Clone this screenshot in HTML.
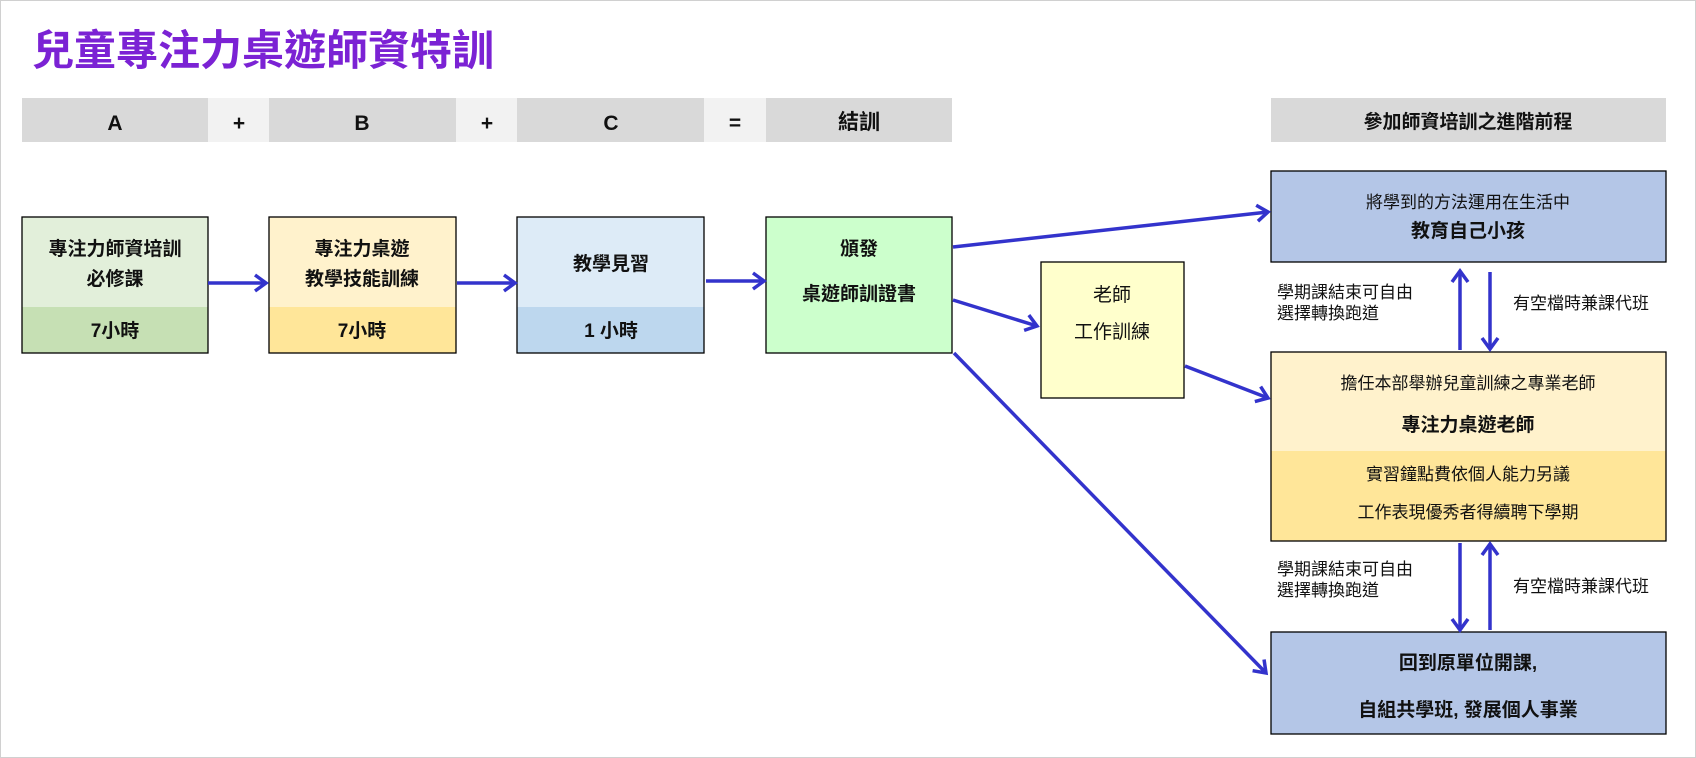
<!DOCTYPE html>
<html><head><meta charset="utf-8"><style>
html,body{margin:0;padding:0;background:#fff}
svg{display:block}
text{font-family:"Liberation Sans","Noto Sans CJK TC",sans-serif;fill:#111}
.b{font-weight:bold}
</style></head><body>
<svg width="1696" height="758" viewBox="0 0 1696 758" xmlns="http://www.w3.org/2000/svg">
<defs>
<marker id="ah" markerWidth="18" markerHeight="20" refX="14" refY="10" orient="auto" markerUnits="userSpaceOnUse">
<path d="M3,2 L14,10 L3,18" fill="none" stroke="#3333cc" stroke-width="3.5"/>
</marker>
</defs>
<rect x="0.5" y="0.5" width="1695" height="757" fill="#fff" stroke="#d0d0d0"/>
<text x="32" y="65" font-size="42" class="b" style="fill:#7b22d4">兒童專注力桌遊師資特訓</text>

<rect x="22" y="98" width="186" height="44" fill="#d9d9d9"/>
<rect x="208" y="98" width="61" height="44" fill="#f2f2f2"/>
<rect x="269" y="98" width="187" height="44" fill="#d9d9d9"/>
<rect x="456" y="98" width="61" height="44" fill="#f2f2f2"/>
<rect x="517" y="98" width="187" height="44" fill="#d9d9d9"/>
<rect x="704" y="98" width="62" height="44" fill="#f2f2f2"/>
<rect x="766" y="98" width="186" height="44" fill="#d9d9d9"/>
<g font-size="21" class="b" text-anchor="middle">
<text x="115" y="130" class="b">A</text><text x="239" y="130" class="b">+</text>
<text x="362" y="130" class="b">B</text><text x="487" y="130" class="b">+</text>
<text x="611" y="130" class="b">C</text><text x="735" y="130" class="b">=</text>
<text x="859" y="129" class="b">結訓</text>
</g>
<rect x="1271" y="98" width="395" height="44" fill="#d9d9d9"/>
<text x="1468" y="128" font-size="19" class="b" text-anchor="middle">參加師資培訓之進階前程</text>

<rect x="22" y="217" width="186" height="90" fill="#e2efda"/><rect x="22" y="307" width="186" height="46" fill="#c6e0b4"/>
<rect x="22" y="217" width="186" height="136" fill="none" stroke="#000" stroke-width="1.3"/>
<rect x="269" y="217" width="187" height="90" fill="#fff2cc"/><rect x="269" y="307" width="187" height="46" fill="#ffe699"/>
<rect x="269" y="217" width="187" height="136" fill="none" stroke="#000" stroke-width="1.3"/>
<rect x="517" y="217" width="187" height="90" fill="#ddebf7"/><rect x="517" y="307" width="187" height="46" fill="#bdd7ee"/>
<rect x="517" y="217" width="187" height="136" fill="none" stroke="#000" stroke-width="1.3"/>
<rect x="766" y="217" width="186" height="136" fill="#ccffcc" stroke="#000" stroke-width="1.3"/>
<g font-size="19" text-anchor="middle">
<text x="115" y="255" class="b">專注力師資培訓</text><text x="115" y="285" class="b">必修課</text><text x="115" y="337" class="b">7小時</text>
<text x="362" y="255" class="b">專注力桌遊</text><text x="362" y="285" class="b">教學技能訓練</text><text x="362" y="337" class="b">7小時</text>
<text x="611" y="270" class="b">教學見習</text><text x="611" y="337" class="b">1 小時</text>
<text x="859" y="255" class="b">頒發</text><text x="859" y="300" class="b">桌遊師訓證書</text>
</g>

<rect x="1041" y="262" width="143" height="136" fill="#ffffcc" stroke="#000" stroke-width="1.3"/>
<text x="1112" y="301" font-size="19" text-anchor="middle">老師</text>
<text x="1112" y="338" font-size="19" text-anchor="middle">工作訓練</text>

<rect x="1271" y="171" width="395" height="91" fill="#b4c6e7" stroke="#000" stroke-width="1.3"/>
<text x="1468" y="208" font-size="17" text-anchor="middle">將學到的方法運用在生活中</text>
<text x="1468" y="237" font-size="19" class="b" text-anchor="middle">教育自己小孩</text>

<rect x="1271" y="352" width="395" height="99" fill="#fff2cc"/>
<rect x="1271" y="451" width="395" height="90" fill="#ffe699"/>
<rect x="1271" y="352" width="395" height="189" fill="none" stroke="#000" stroke-width="1.3"/>
<text x="1468" y="389" font-size="17" text-anchor="middle">擔任本部舉辦兒童訓練之專業老師</text>
<text x="1468" y="431" font-size="19" class="b" text-anchor="middle">專注力桌遊老師</text>
<text x="1468" y="480" font-size="17" text-anchor="middle">實習鐘點費依個人能力另議</text>
<text x="1468" y="518" font-size="17" text-anchor="middle">工作表現優秀者得續聘下學期</text>

<rect x="1271" y="632" width="395" height="102" fill="#b4c6e7" stroke="#000" stroke-width="1.3"/>
<text x="1468" y="669" font-size="19" class="b" text-anchor="middle">回到原單位開課,</text>
<text x="1468" y="716" font-size="19" class="b" text-anchor="middle">自組共學班, 發展個人事業</text>

<g font-size="17">
<text x="1277" y="298">學期課結束可自由</text><text x="1277" y="319">選擇轉換跑道</text>
<text x="1513" y="309">有空檔時兼課代班</text>
<text x="1277" y="575">學期課結束可自由</text><text x="1277" y="596">選擇轉換跑道</text>
<text x="1513" y="592">有空檔時兼課代班</text>
</g>

<g stroke="#3333cc" stroke-width="3.5" fill="none" marker-end="url(#ah)">
<line x1="208" y1="283" x2="266" y2="283"/>
<line x1="457" y1="283" x2="515" y2="283"/>
<line x1="706" y1="281" x2="764" y2="281"/>
<line x1="953" y1="247" x2="1268" y2="212"/>
<line x1="953" y1="300" x2="1037" y2="326"/>
<line x1="1185" y1="366" x2="1268" y2="398"/>
<line x1="954" y1="353" x2="1266" y2="673"/>
<line x1="1460" y1="350" x2="1460" y2="271"/>
<line x1="1490" y1="272" x2="1490" y2="349"/>
<line x1="1460" y1="543" x2="1460" y2="630"/>
<line x1="1490" y1="630" x2="1490" y2="544"/>
</g>
</svg>
</body></html>
